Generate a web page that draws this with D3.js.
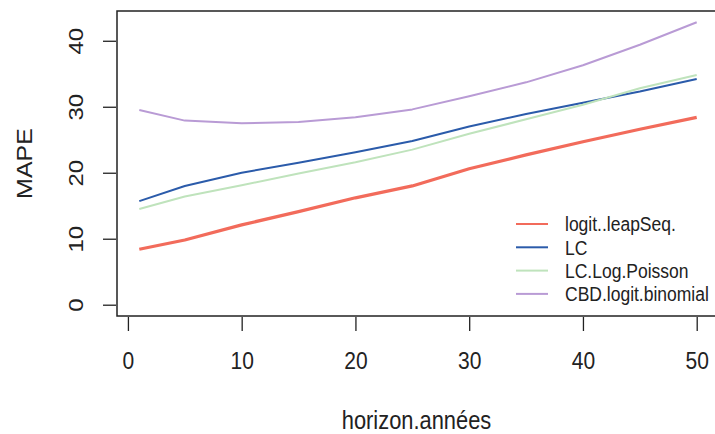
<!DOCTYPE html>
<html>
<head>
<meta charset="utf-8">
<script src="https://cdn.jsdelivr.net/npm/d3@7"></script>
<style>
  body { margin: 0; background: #fff; }
  svg text { font-family: "Liberation Sans", Arial, sans-serif; fill: #222; }
</style>
</head>
<body>
<div id="chart"></div>
<script>
// horizon (years)
var horizons = [1, 5, 10, 15, 20, 25, 30, 35, 40, 45, 50];
var logitLeapSeq = [8.4, 9.8, 12.1, 14.1, 16.2, 18.0, 20.6, 22.7, 24.7, 26.6, 28.4];
var lc = [15.7, 18.0, 20.0, 21.5, 23.1, 24.8, 27.0, 28.9, 30.6, 32.3, 34.2];
var lcLogPoisson = [14.5, 16.4, 18.1, 19.9, 21.6, 23.5, 25.9, 28.1, 30.3, 32.8, 34.8];
var cbdLogitBinomial = [29.5, 27.9, 27.5, 27.7, 28.4, 29.6, 31.6, 33.7, 36.3, 39.4, 42.8];
var seriesNames = ["logit..leapSeq.", "LC", "LC.Log.Poisson", "CBD.logit.binomial"];
var xTicks = [0, 10, 20, 30, 40, 50];
var yTicks = [0, 10, 20, 30, 40];

var colors = ["#F26B5B", "#2B5BAA", "#BFE3BC", "#B99BD5"];
var widths = [3.2, 2, 2, 2];
var allSeries = [logitLeapSeq, lc, lcLogPoisson, cbdLogitBinomial];

// the source image is a bit squeezed sideways, so text gets narrowed
var sx = 0.875;

var W = 715, H = 434;
var margin = { top: 11, right: -4, bottom: 118, left: 117 };
var width = W - margin.left - margin.right,
    height = H - margin.top - margin.bottom;

var svg = d3.select("#chart")
    .append("svg")
    .attr("width", W)
    .attr("height", H);

// R-style 4% padding on the ranges
var x = d3.scaleLinear()
    .domain([1 - 0.04 * 49, 50 + 0.04 * 49])
    .range([margin.left, margin.left + width]);
var yMax = 42.8;
var y = d3.scaleLinear()
    .domain([-0.04 * yMax, yMax * 1.04])
    .range([margin.top + height, margin.top]);

var bottom = margin.top + height;

var xAxis = svg.append("g")
    .attr("transform", "translate(0," + (bottom + 1) + ")")
    .call(d3.axisBottom(x).tickValues(xTicks).tickSize(14).tickPadding(21));
var yAxis = svg.append("g")
    .attr("transform", "translate(" + (margin.left - 1) + ",0)")
    .call(d3.axisLeft(y).tickValues(yTicks).tickSize(13));

[xAxis, yAxis].forEach(function (g) {
    g.select(".domain").remove();
    g.selectAll("line").attr("stroke", "#222").attr("stroke-width", 1.3);
    g.selectAll("text").style("font-size", "24px")
        .style("font-family", "Liberation Sans, Arial, sans-serif").attr("fill", "#222");
});
xAxis.selectAll(".tick text").attr("transform", "scale(" + sx + ",1)");

// rotated y tick labels like R
yAxis.selectAll(".tick text")
    .attr("x", 0)
    .attr("y", 0)
    .attr("dy", "0.36em")
    .attr("text-anchor", "middle")
    .attr("transform", "translate(-40.5,0) rotate(-90) scale(1," + sx + ")");

// lines
var line = d3.line()
    .x(function (d, i) { return x(horizons[i]); })
    .y(function (d) { return y(d); });

allSeries.forEach(function (s, k) {
    svg.append("path")
        .datum(s)
        .attr("fill", "none")
        .attr("stroke", colors[k])
        .attr("stroke-width", widths[k])
        .attr("stroke-linejoin", "round")
        .attr("d", line);
});

// box
svg.append("rect")
    .attr("x", margin.left)
    .attr("y", margin.top)
    .attr("width", width)
    .attr("height", height)
    .attr("fill", "none")
    .attr("stroke", "#222")
    .attr("stroke-width", 1.5);

// legend
var legend = svg.append("g");
seriesNames.forEach(function (name, k) {
    var ly = 224 + k * 23.3;
    legend.append("line")
        .attr("x1", 516).attr("x2", 548)
        .attr("y1", ly).attr("y2", ly)
        .attr("stroke", colors[k])
        .attr("stroke-width", 2);
    legend.append("text")
        .attr("transform", "translate(565," + ly + ") scale(" + sx + ",1)")
        .attr("dy", "0.36em")
        .style("font-size", "20px")
        .text(name);
});

// axis titles
svg.append("text")
    .attr("transform", "translate(" + 416.5 + ",429) scale(" + sx + ",1)")
    .attr("text-anchor", "middle")
    .style("font-size", "25px")
    .text("horizon.années");

svg.append("text")
    .attr("transform", "translate(24," + (margin.top + height / 2) + ") rotate(-90) scale(1," + sx + ")")
    .attr("text-anchor", "middle")
    .attr("dy", "0.36em")
    .style("font-size", "25px")
    .text("MAPE");
</script>
</body>
</html>
